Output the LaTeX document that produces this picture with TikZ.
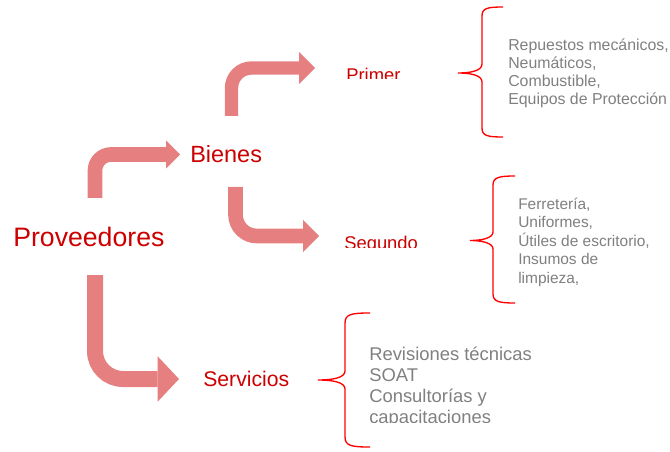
\documentclass[tikz,border=0pt]{standalone}
\usepackage{fontspec}
\setmainfont{Liberation Sans}
\usetikzlibrary{arrows.meta}
\begin{document}
\begin{tikzpicture}[x=0.75pt,y=0.75pt,yscale=-1,xscale=1,
  fatarrow/.style={draw={rgb, 255:red, 230; green, 128; blue, 128}, line width=11pt, rounded corners=#1},
  fatarrow/.default=15pt,
  brace/.style={draw={rgb, 255:red, 255; green, 0; blue, 0}, line width=1pt},
  title/.style={text={rgb, 255:red, 204; green, 0; blue, 0}, inner sep=0pt},
  items/.style={text={rgb, 255:red, 128; green, 128; blue, 128}, inner sep=0pt, align=left, anchor=base west}]
\useasboundingbox (0,0) rectangle (670,452);

% Text Node
\draw (13,237) node[title, anchor=west, font=\fontsize{20}{24}\selectfont] (prov) {Proveedores};
% Text Node
\draw (190,154.5) node[title, anchor=west, font=\fontsize{17.6}{21}\selectfont] (bienes) {Bienes};
% Text Node (cut off at the bottom)
\begin{scope}
\clip (300,0) rectangle (460,79);
\draw (346,68) node[title, anchor=north west, font=\fontsize{13.8}{16}\selectfont] (primer) {Primer};
\end{scope}
% Text Node (cut off at the bottom)
\begin{scope}
\clip (300,200) rectangle (460,247.5);
\draw (344,236) node[title, anchor=north west, font=\fontsize{13.8}{16}\selectfont] (segundo) {Segundo};
\end{scope}
% Text Node
\draw (203,379) node[title, anchor=west, font=\fontsize{15.9}{19}\selectfont] (servicios) {Servicios};

% Text Node (anchored on the last line)
\draw (508,105) node[items, font=\fontsize{11.9}{13.5}\selectfont] (list1) {Repuestos mecánicos,\\Neumáticos,\\Combustible,\\Equipos de Protección};
% Text Node (anchored on the last line)
\draw (518,283.3) node[items, font=\fontsize{11.6}{13.9}\selectfont] (list2) {Ferretería,\\Uniformes,\\Útiles de escritorio,\\Insumos de\\limpieza,};
% Text Node (cut off at the bottom)
\begin{scope}
\clip (330,330) rectangle (600,422.5);
\draw (369,423) node[items, font=\fontsize{13.8}{15.75}\selectfont] (list3) {Revisiones técnicas\\SOAT\\Consultorías y\\capacitaciones};
\end{scope}

%Arrows
\coordinate (a1) at (95,198);
\coordinate (a2) at (231.5,116);
\coordinate (a3) at (235.5,187);
\coordinate (a4) at (95,275);
\draw[fatarrow=12pt, -{Triangle[width=21pt,length=10.5pt,line width=0pt]}] (a1) |- ([xshift=-7.5pt]bienes.west);
\draw[fatarrow=15pt, line width=10pt, -{Triangle[width=24pt,length=12pt,line width=0pt]}] (a2) |- ([xshift=-23.25pt]primer.north west);
\draw[fatarrow=16pt, -{Triangle[width=24pt,length=12pt,line width=0pt]}] (a3) |- ([xshift=-18.75pt]segundo.north west);
\draw[fatarrow=21pt, line width=12pt, -{Triangle[width=34pt,length=16pt,line width=0pt]}] (a4) |- ([xshift=-18pt]servicios.west);

%Shape: Brace
\draw[brace] (503,7) .. controls (488,7) and (482,8) .. (482,16) -- (482,64) .. controls (482,71) and (470,73) .. (458,73) .. controls (470,73) and (482,75) .. (482,82) -- (482,128) .. controls (482,136) and (488,137) .. (503,137) ;
%Shape: Brace
\draw[brace] (515,176) .. controls (500,176) and (493,177) .. (493,185) -- (493,232) .. controls (493,238) and (482,240.5) .. (470,240.5) .. controls (482,240.5) and (493,243) .. (493,249) -- (493,294) .. controls (493,302) and (500,303) .. (515,303) ;
%Shape: Brace
\draw[brace] (370,313) .. controls (352,313) and (345,314) .. (345,323) -- (345,371) .. controls (345,378) and (332,380) .. (318,380) .. controls (332,380) and (345,382) .. (345,389) -- (345,437) .. controls (345,446) and (352,447) .. (370,447) ;

\end{tikzpicture}
\end{document}
